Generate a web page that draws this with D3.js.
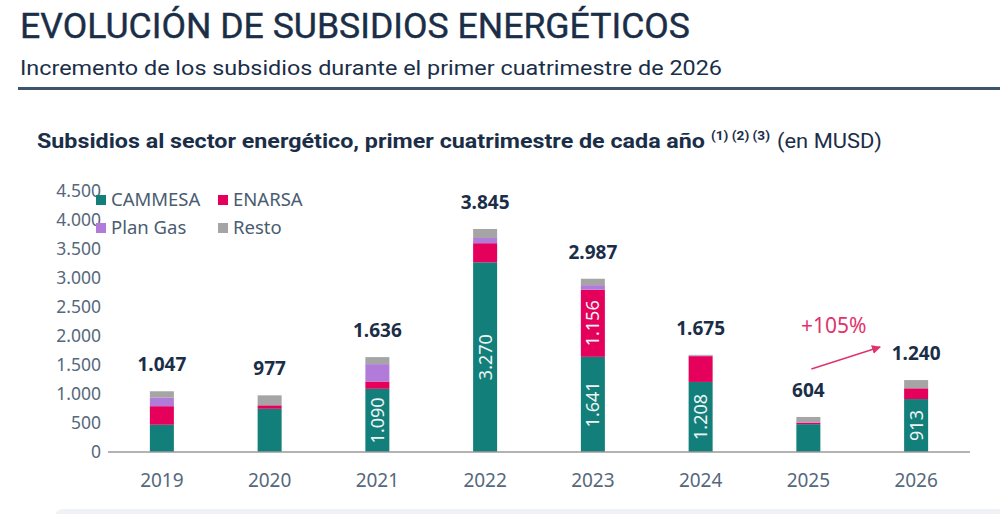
<!DOCTYPE html>
<html>
<head>
<meta charset="utf-8">
<title>Evolución de subsidios energéticos</title>
<style>
  body { margin: 0; background: #fff; }
  svg { display: block; font-family: "Noto Sans", sans-serif; }
</style>
<script src="https://d3js.org/d3.v7.min.js"></script>
</head>
<body>
<svg id="chart" width="1000" height="514"></svg>
<script>
// data (MUSD, primer cuatrimestre)
const years = ["2019", "2020", "2021", "2022", "2023", "2024", "2025", "2026"];
const cammesa = [470, 745, 1090, 3270, 1641, 1208, 480, 913];
const enarsa = [320, 60, 125, 330, 1156, 445, 25, 185];
const planGas = [150, 0, 300, 90, 80, 10, 10, 0];
const resto = [107, 172, 121, 155, 110, 12, 89, 142];
const totals = [1047, 977, 1636, 3845, 2987, 1675, 604, 1240];
const yTicks = [0, 500, 1000, 1500, 2000, 2500, 3000, 3500, 4000, 4500];
const seriesNames = ["CAMMESA", "ENARSA", "Plan Gas", "Resto"];
const seriesColors = ["#137f7a", "#e5005b", "#b07bd9", "#a5a5a5"];
// which segments carry a value label inside the bar
const innerLabels = [
  { year: "2021", key: "CAMMESA" },
  { year: "2022", key: "CAMMESA" },
  { year: "2023", key: "CAMMESA" },
  { year: "2023", key: "ENARSA" },
  { year: "2024", key: "CAMMESA" },
  { year: "2026", key: "CAMMESA" }
];

const svg = d3.select("#chart");
const NAVY = "#1b2e48";
const GREY_TXT = "#55687c";
const BAR_W = 24;

const es = d3.formatLocale({ decimal: ",", thousands: ".", grouping: [3], currency: ["", ""] });
const fmt = es.format(",d");

// header
svg.append("text")
   .attr("x", 20).attr("y", 38)
   .attr("font-family", "Roboto, sans-serif")
   .attr("font-size", 35)
   .attr("fill", NAVY)
   .attr("stroke", NAVY).attr("stroke-width", 0.4)
   .attr("textLength", 670).attr("lengthAdjust", "spacingAndGlyphs")
   .text("EVOLUCIÓN DE SUBSIDIOS ENERGÉTICOS");

svg.append("text")
   .attr("x", 20).attr("y", 75)
   .attr("font-family", "Roboto, sans-serif")
   .attr("font-size", 21)
   .attr("fill", NAVY)
   .attr("textLength", 702).attr("lengthAdjust", "spacingAndGlyphs")
   .text("Incremento de los subsidios durante el primer cuatrimestre de 2026");

svg.append("rect")
   .attr("x", 18).attr("y", 87).attr("width", 982).attr("height", 3)
   .attr("fill", "#3c546e");

// chart title
const ttl = svg.append("g").attr("font-family", "Roboto, sans-serif").attr("fill", NAVY);
ttl.append("text").attr("x", 37).attr("y", 148)
   .attr("font-size", 21).attr("font-weight", 700)
   .attr("textLength", 668).attr("lengthAdjust", "spacingAndGlyphs")
   .text("Subsidios al sector energético, primer cuatrimestre de cada año");
ttl.append("text").attr("x", 711).attr("y", 140)
   .attr("font-size", 12).attr("font-weight", 700)
   .attr("textLength", 59).attr("lengthAdjust", "spacingAndGlyphs")
   .text("(1) (2) (3)");
ttl.append("text").attr("x", 777).attr("y", 148)
   .attr("font-size", 21)
   .attr("textLength", 105).attr("lengthAdjust", "spacingAndGlyphs")
   .text("(en MUSD)");

// scales
const x = d3.scalePoint().domain(years).range([108, 970]).padding(0.5);
const y = d3.scaleLinear().domain([0, 4500]).range([452, 191]);
const color = d3.scaleOrdinal().domain(seriesNames).range(seriesColors);

// y axis
const yAxis = svg.append("g")
   .attr("transform", "translate(108,0)")
   .call(d3.axisLeft(y).tickValues(yTicks).tickSize(0).tickPadding(7).tickFormat(fmt));
yAxis.select(".domain").remove();
yAxis.selectAll("text")
   .attr("font-family", "Noto Sans, sans-serif")
   .attr("font-size", 17.5)
   .attr("fill", GREY_TXT);

// stacked bars
const table = years.map((yr, i) => ({
  year: yr, "CAMMESA": cammesa[i], "ENARSA": enarsa[i], "Plan Gas": planGas[i], "Resto": resto[i], total: totals[i]
}));
const stack = d3.stack().keys(seriesNames)(table);

const layers = svg.append("g").selectAll("g")
   .data(stack).join("g")
   .attr("fill", d => color(d.key));

layers.selectAll("rect")
   .data(d => d)
   .join("rect")
   .attr("x", d => x(d.data.year) - BAR_W / 2)
   .attr("width", BAR_W)
   .attr("y", d => y(d[1]))
   .attr("height", d => y(d[0]) - y(d[1]));

// values inside bars
const segs = innerLabels.map(l => {
  const layer = stack.find(s => s.key === l.key);
  return layer.find(s => s.data.year === l.year);
});
svg.append("g").selectAll("text")
   .data(segs).join("text")
   .attr("transform", d => `translate(${x(d.data.year)},${(y(d[0]) + y(d[1])) / 2}) rotate(-90)`)
   .attr("text-anchor", "middle")
   .attr("dy", "0.36em")
   .attr("font-family", "Noto Sans, sans-serif")
   .attr("font-size", 18)
   .attr("fill", "#eef4f4")
   .text(d => fmt(d[1] - d[0]));

// totals on top
svg.append("g").selectAll("text")
   .data(table).join("text")
   .attr("x", d => x(d.year))
   .attr("y", d => y(d.total) - 20)
   .attr("text-anchor", "middle")
   .attr("font-family", "Noto Sans, sans-serif")
   .attr("font-weight", 700)
   .attr("font-size", 19)
   .attr("fill", NAVY)
   .text(d => fmt(d.total));

// baseline
svg.append("line")
   .attr("x1", 108).attr("x2", 970)
   .attr("y1", y(0)).attr("y2", y(0))
   .attr("stroke", "#9a9a9a").attr("stroke-width", 1.5);

// x labels
svg.append("g").selectAll("text")
   .data(years).join("text")
   .attr("x", d => x(d))
   .attr("y", 487)
   .attr("text-anchor", "middle")
   .attr("font-family", "Noto Sans, sans-serif")
   .attr("font-size", 19)
   .attr("fill", GREY_TXT)
   .text(d => d);

// legend
const legend = svg.append("g").selectAll("g")
   .data(seriesNames).join("g")
   .attr("transform", (d, i) => `translate(${96 + (i % 2) * 122},${200 + Math.floor(i / 2) * 28})`);
legend.append("rect")
   .attr("x", 0).attr("y", -5).attr("width", 10).attr("height", 10)
   .attr("fill", d => color(d));
legend.append("text")
   .attr("x", 15).attr("dy", "0.35em")
   .attr("font-family", "Noto Sans, sans-serif")
   .attr("font-size", 18.5)
   .attr("fill", "#4a5c70")
   .text(d => d);

// growth annotation 2025 -> 2026
const PINK = "#e0336e";
svg.append("defs").append("marker")
   .attr("id", "arr").attr("viewBox", "0 0 10 10")
   .attr("refX", 9).attr("refY", 5)
   .attr("markerWidth", 6).attr("markerHeight", 6)
   .attr("orient", "auto")
   .append("path").attr("d", "M0,0 L10,5 L0,10 Z").attr("fill", PINK);

const x0 = x("2025") + 3, y0 = y(1431);
const x1 = x("2026") - 36, y1 = y(1810);
svg.append("line")
   .attr("x1", x0).attr("y1", y0).attr("x2", x1).attr("y2", y1)
   .attr("stroke", PINK).attr("stroke-width", 1.5)
   .attr("marker-end", "url(#arr)");
svg.append("text")
   .attr("x", (x0 + x1) / 2 - 12).attr("y", y(2050))
   .attr("text-anchor", "middle")
   .attr("font-family", "Noto Sans, sans-serif")
   .attr("font-size", 21)
   .attr("fill", PINK)
   .text("+" + Math.round((totals[7] / totals[6] - 1) * 100) + "%");

// bottom card edge
svg.append("rect")
   .attr("x", 55).attr("y", 509).attr("width", 960).attr("height", 20).attr("rx", 8)
   .attr("fill", "#eef2f6");
</script>
</body>
</html>
